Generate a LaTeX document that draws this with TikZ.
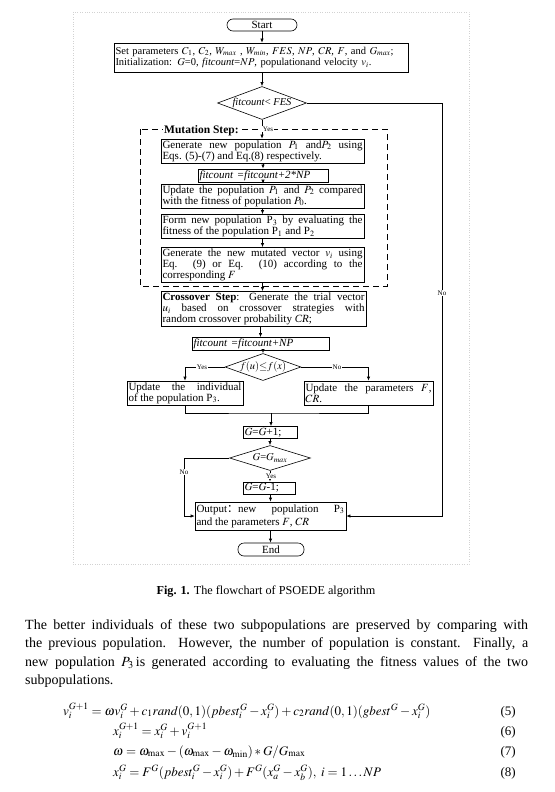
\documentclass[tikz,border=0pt]{standalone}
\usepackage{amsmath,amssymb}
\usepackage{mathptmx}
\usepackage[no-math]{fontspec}
\setmainfont{Liberation Serif}
\newfontfamily\cjk{Noto Sans CJK SC}
\usetikzlibrary{shapes.geometric,arrows.meta,positioning,calc}

\begin{document}
\begin{tikzpicture}[x=1pt,y=-1pt,
        flow/.style={draw, line width=0.6pt, inner sep=1.5pt, font=\fontsize{11}{11}\selectfont},
        procbox/.style={flow, rectangle, align=justify},
        termbox/.style={flow, rectangle, rounded corners=6pt, minimum width=70pt, minimum height=12pt, inner sep=0pt},
        decbox/.style={flow, diamond, inner sep=0pt, aspect=2.8, font=\fontsize{10.5}{11}\selectfont},
        lab/.style={font=\fontsize{7}{8}\selectfont, fill=white, inner sep=0.6pt},
        arr/.style={-{Latex[length=4pt,width=3.2pt]}, line width=0.6pt},
        conn/.style={line width=0.6pt}]
        \useasboundingbox (0,0) rectangle (554,792);
        \draw[gray!35, dotted] (73,12) rectangle (469,564);
        % flowchart
        \node[termbox] (start) at (262,25) {Start};
        \node[flow, rectangle, align=left, text width=291pt, minimum height=29pt, font=\fontsize{10.5}{11.5}\selectfont] (set) at (261,57.5)
            {Set parameters $C_1$, $C_2$, $W_{max}$ , $W_{min}$, $FES$, $NP$, $CR$, $F$, and $G_{max}$;\\
             Initialization: $G$=0, \textit{fitcount}=$NP$, populationand velocity $v_i$.};
        \node[decbox, minimum width=89pt, minimum height=33pt] (dec1) at (262,103) {\textit{fitcount}< \textit{FES}};
        \draw[dashed, dash pattern=on 6pt off 4pt, line width=0.6pt] (140,129) rectangle (387,286);
        \node[font=\fontsize{11.5}{12}\bfseries, fill=white, inner sep=1pt, anchor=west] (mutlab) at (163,130.5) {Mutation Step:};
        \node[procbox, text width=200pt, minimum height=22pt] (m1) at (262.5,151)
            {Generate new population $P_1$ and$P_2$ using\linebreak Eqs. (5)-(7) and Eq.(8) respectively.};
        \node[procbox, align=left, text width=127pt, minimum height=13pt] (m2) at (263,175.5) {\textit{fitcount =fitcount+2*NP}};
        \node[procbox, text width=200pt, minimum height=22pt] (m3) at (262.5,196)
            {Update the population $P_1$ and $P_2$ compared\linebreak with the fitness of population $P_0$.};
        \node[procbox, text width=200pt, minimum height=23pt] (m4) at (262.5,226.5)
            {Form new population P$_3$ by evaluating the\linebreak fitness of the population P$_1$ and P$_2$};
        \node[procbox, text width=200pt, minimum height=34pt] (m5) at (262.5,265)
            {Generate the new mutated vector $v_i$ using\linebreak Eq. (9) or Eq. (10) according to the\linebreak corresponding $F$};
        \node[procbox, text width=202pt, minimum height=32pt] (cross) at (263.5,309)
            {\textbf{Crossover Step}: Generate the trial vector\linebreak $u_i$ based on crossover strategies with\linebreak random crossover probability \textit{CR};};
        \node[procbox, align=left, text width=134pt, minimum height=12pt] (fit2) at (260.5,344) {\textit{fitcount =fitcount+NP}};
        \node[decbox, minimum width=70pt, minimum height=22pt] (dec2) at (263,367) {$f(u){\le}f(x)$};
        \node[procbox, text width=113pt, minimum height=24pt] (upind) at (185,393)
            {Update the individual\linebreak of the population P$_3$.};
        \node[procbox, text width=126pt, minimum height=24pt] (uppar) at (368.5,393)
            {Update the parameters $F$,\linebreak $CR$.};
        \coordinate (merge) at (271,413);
        \node[procbox, align=left, text width=51pt, minimum height=11pt] (g1) at (270,432.5) {$G$=$G$+1;};
        \node[decbox, minimum width=81pt, minimum height=25pt] (dec3) at (270,458) {$G$=$G_{max}$};
        \node[procbox, align=left, text width=49pt, minimum height=12pt] (g2) at (269,488) {$G$=$G$-1;};
        \node[procbox, text width=148pt, minimum height=28pt, font=\fontsize{11}{13}\selectfont] (out) at (270.5,516)
            {Output{\cjk ：}new population P$_3$\linebreak and the parameters $F$, $CR$};
        \node[termbox, minimum width=66pt, minimum height=13pt] (end) at (271,549.5) {End};
        \coordinate (loopR) at (442,0);
        \coordinate (loopL) at (184,0);
        % connectors
        \draw[arr] (start) -- (start |- set.north);
        \draw[arr] (set.south -| dec1) -- (dec1.north);
        \draw[arr] (dec1.south) -- (dec1.south |- m1.north);
        \draw[arr] (m1.south -| m2) -- (m2.north);
        \draw[arr] (m2.south) -- (m2.south |- m3.north);
        \draw[arr] (m3.south) -- (m4.north);
        \draw[arr] (m4.south) -- (m5.north);
        \draw[arr] (m5.south) -- (m5.south |- cross.north);
        \draw[arr] (cross.south -| fit2) -- (fit2.north);
        \draw[arr] (fit2.south -| dec2) -- (dec2.north);
        \draw[arr] (dec2.west) -| (upind.north);
        \draw[arr] (dec2.east) -| (uppar.north);
        \draw[conn] (upind.south) |- (merge) -| (uppar.south);
        \draw[arr] (merge) -- (merge |- g1.north);
        \draw[arr] (g1.south) -- (dec3.north);
        \draw[arr] (dec3.south) -- (dec3.south |- g2.north);
        \draw[arr] (g2.south -| out) -- (out.north);
        \draw[arr] (out.south) -- (out.south |- end.north);
        \draw[arr] (dec3.west) -- (dec3.west -| loopL) -- (loopL |- out.west) -- (out.west);
        \draw[arr] (dec1.east) -- (dec1.east -| loopR) -- (loopR |- out.east) -- (out.east);
        % labels
        \node[lab] (yesA) at (268,129) {Yes};
        \node[lab] (noA) at (442,293) {No};
        \node[lab] (yesB) at (202,367) {Yes};
        \node[lab] (noB) at (337,367) {No};
        \node[lab] (noC) at (184,472) {No};
        \node[lab] (yesC) at (271,476) {Yes};
        % caption and text
        \node[font=\fontsize{12.2}{13}\selectfont] (cap) at (266,592) {\textbf{Fig. 1.} The flowchart of PSOEDE algorithm};
        \node[anchor=north west, inner sep=0pt, text width=503pt, align=justify, font=\fontsize{14}{18.6}\selectfont] (para) at (25,619)
            {The better individuals of these two subpopulations are preserved by comparing with\linebreak the previous population. However, the number of population is constant. Finally, a\linebreak new population $P_3$\kern2pt is generated according to evaluating the fitness values of the two\linebreak subpopulations.};
        \begin{scope}[every node/.style={inner sep=0pt, font=\fontsize{13}{15}\selectfont}]
        \node[anchor=base west] (eq5) at (63,715) {$v_i^{G+1}=\omega v_i^G+c_1 rand(0,1)(pbest_i^G-x_i^G)+c_2 rand(0,1)(gbest^G-x_i^G)$};
        \node[anchor=base west] (eq6) at (113,735) {$x_i^{G+1}=x_i^G+v_i^{G+1}$};
        \node[anchor=base west] (eq7) at (113,755) {$\omega=\omega_{\max}-(\omega_{\max}-\omega_{\min})*G/G_{\max}$};
        \node[anchor=base west] (eq8) at (113,776) {$x_i^G=F^G(pbest_i^G-x_i^G)+F^G(x_a^G-x_b^G),\ i=1\ldots NP$};
        \node[anchor=base east] (n5) at (516,715) {(5)};
        \node[anchor=base east] (n6) at (516,735) {(6)};
        \node[anchor=base east] (n7) at (516,755) {(7)};
        \node[anchor=base east] (n8) at (516,776) {(8)};
        \end{scope}
    \end{tikzpicture}
\end{document}
